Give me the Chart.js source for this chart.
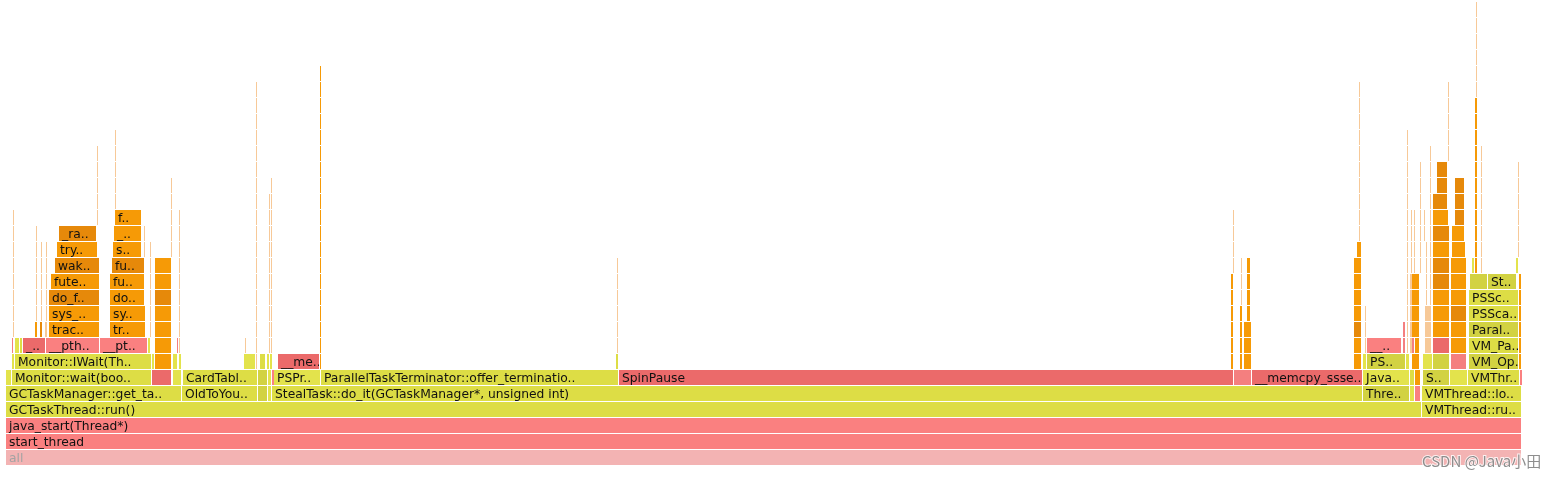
<!DOCTYPE html>
<html><head><meta charset="utf-8">
<script src="https://cdn.jsdelivr.net/npm/chart.js@4/dist/chart.umd.min.js"></script>
<style>html,body{margin:0;padding:0;background:#fff;}#wrap{position:relative;width:1558px;height:479px;}</style>
</head><body><div id="wrap"><canvas id="c" width="1558" height="479"></canvas></div>
<script>
// ===== DATA: stack frames per depth level: [function name, first sample, last sample] =====
const totalSamples = 1516;
const L0 = [['all',0,1516]];
const L1 = [['start_thread',0,1516]];
const L2 = [['java_start(Thread*)',0,1516]];
const L3 = [['GCTaskThread::run()',0,1416],['VMThread::ru..',1416,1516]];
const L4 = [['GCTaskManager::get_ta..',0,176],['OldToYou..',176,252],['',252,262],['',262,266],['StealTask::do_it(GCTaskManager*, unsigned int)',266,1357],['Thre..',1357,1404],['',1404,1409],['',1409,1415],['VMThread::lo..',1416,1516]];
const L5 = [['',0,6],['Monitor::wait(boo..',6,146],['',146,166],['',167,176],['CardTabl..',177,252],['',252,262],['',262,266],['',266,268],['PSPr..',268,315],['ParallelTaskTerminator::offer_terminatio..',315,613],['SpinPause',613,1228],['',1228,1246],['__memcpy_ssse..',1246,1357],['Java..',1357,1404],['',1404,1409],['',1409,1415],['S..',1417,1444],['',1444,1462],['VMThr..',1462,1514],['',1514,1516]];
const L6 = [['',6,9],['Monitor::IWait(Th..',9,146],['',146,149],['',149,166],['',167,172],['',173,176],['',238,250],['',250,251],['',254,260],['',261,264],['',264,266],['__me..',272,314],['',314,315],['',610,612],['',1225,1228],['',1234,1237],['',1238,1246],['',1348,1356],['',1357,1361],['PS..',1361,1400],['',1400,1404],['',1406,1414],['',1417,1427],['',1427,1444],['',1445,1461],['VM_Op..',1463,1513],['',1513,1516]];
const L7 = [['',6,7],['',9,14],['',14,17],['_..',17,40],['__pth..',40,94],['__pt..',94,142],['',142,144],['',149,166],['',171,172],['',173,174],['',239,240],['',250,251],['',263,264],['',265,266],['',314,315],['',611,612],['',1225,1228],['',1234,1237],['',1238,1246],['',1348,1356],['',1359,1360],['__..',1361,1396],['',1397,1400],['',1401,1402],['',1404,1406],['',1406,1409],['',1409,1414],['',1419,1426],['',1427,1444],['',1445,1461],['VM_Pa..',1463,1513],['',1513,1516]];
const L8 = [['',7,8],['',29,32],['',34,37],['',39,41],['trac..',43,94],['tr..',104,140],['',144,145],['',149,166],['',173,174],['',250,251],['',263,264],['',265,266],['',314,315],['',611,612],['',1225,1228],['',1234,1237],['',1238,1246],['',1348,1356],['',1359,1360],['',1397,1400],['',1401,1402],['',1404,1406],['',1406,1414],['',1419,1426],['',1427,1444],['',1445,1461],['Paral..',1463,1513],['',1513,1516]];
const L9 = [['',7,8],['',30,31],['',35,36],['',40,41],['sys_..',43,94],['sy..',104,140],['',144,145],['',149,166],['',173,174],['',250,251],['',263,264],['',265,266],['',314,315],['',611,612],['',1225,1228],['',1234,1237],['',1241,1245],['',1348,1356],['',1359,1360],['',1401,1402],['',1404,1406],['',1406,1414],['',1419,1426],['',1427,1444],['',1445,1461],['PSSca..',1463,1513],['',1513,1516]];
const L10 = [['',7,8],['',30,31],['',35,36],['',40,41],['do_f..',43,94],['do..',104,139],['',144,145],['',149,166],['',173,174],['',250,251],['',263,264],['',265,266],['',314,315],['',611,612],['',1225,1228],['',1235,1236],['',1241,1245],['',1348,1356],['',1401,1402],['',1404,1406],['',1406,1414],['',1420,1421],['',1424,1425],['',1427,1444],['',1445,1461],['PSSc..',1463,1513],['',1513,1516]];
const L11 = [['',7,8],['',30,31],['',35,36],['',40,41],['fute..',45,94],['fu..',104,139],['',144,145],['',149,166],['',173,174],['',250,251],['',263,264],['',265,266],['',314,315],['',611,612],['',1225,1228],['',1235,1236],['',1241,1245],['',1348,1356],['',1401,1402],['',1404,1406],['',1406,1414],['',1420,1421],['',1424,1425],['',1427,1444],['',1445,1461],['',1464,1482],['St..',1482,1511],['',1513,1516]];
const L12 = [['',7,8],['',30,31],['',35,36],['',40,41],['wak..',49,94],['fu..',106,139],['',144,145],['',149,166],['',173,174],['',250,251],['',263,264],['',265,266],['',314,315],['',611,612],['',1227,1228],['',1235,1236],['',1241,1245],['',1348,1356],['',1401,1402],['',1405,1406],['',1408,1409],['',1414,1415],['',1420,1421],['',1424,1425],['',1427,1444],['',1445,1461],['',1466,1468],['',1469,1471],['',1475,1476],['',1510,1513]];
const L13 = [['',7,8],['',30,31],['',35,36],['',40,41],['try..',51,92],['s..',107,136],['',138,139],['',144,145],['',165,166],['',173,174],['',250,251],['',263,264],['',265,266],['',314,315],['',1227,1228],['',1351,1356],['',1401,1402],['',1405,1406],['',1408,1409],['',1414,1415],['',1420,1421],['',1424,1425],['',1427,1444],['',1446,1460],['',1469,1471],['',1475,1476],['',1512,1513]];
const L14 = [['',7,8],['',30,31],['_ra..',53,91],['_..',108,136],['',138,139],['',165,166],['',173,174],['',250,251],['',263,264],['',265,266],['',314,315],['',1227,1228],['',1353,1354],['',1401,1402],['',1405,1406],['',1408,1409],['',1414,1415],['',1418,1419],['',1424,1425],['',1427,1444],['',1446,1459],['',1469,1471],['',1475,1476],['',1512,1513]];
const L15 = [['',7,8],['',91,92],['f..',109,136],['',165,166],['',173,174],['',250,251],['',263,264],['',265,266],['',314,315],['',1227,1228],['',1353,1354],['',1401,1402],['',1405,1406],['',1408,1409],['',1414,1415],['',1418,1419],['',1424,1425],['',1427,1443],['',1449,1459],['',1469,1471],['',1475,1476],['',1512,1513]];
const L16 = [['',91,92],['',109,110],['',165,166],['',250,251],['',263,264],['',265,266],['',314,315],['',1353,1354],['',1401,1402],['',1414,1415],['',1424,1425],['',1427,1442],['',1449,1459],['',1469,1471],['',1475,1476],['',1512,1513]];
const L17 = [['',91,92],['',109,110],['',165,166],['',250,251],['',265,266],['',314,315],['',1353,1354],['',1401,1402],['',1414,1415],['',1424,1425],['',1431,1442],['',1449,1459],['',1469,1471],['',1475,1476],['',1512,1513]];
const L18 = [['',91,92],['',109,110],['',250,251],['',314,315],['',1353,1354],['',1401,1402],['',1414,1415],['',1424,1425],['',1431,1442],['',1469,1471],['',1475,1476],['',1512,1513]];
const L19 = [['',91,92],['',109,110],['',250,251],['',314,315],['',1353,1354],['',1401,1402],['',1424,1425],['',1442,1443],['',1469,1471],['',1475,1476]];
const L20 = [['',109,110],['',250,251],['',314,315],['',1353,1354],['',1401,1402],['',1442,1443],['',1469,1471]];
const L21 = [['',250,251],['',314,315],['',1353,1354],['',1442,1443],['',1469,1471]];
const L22 = [['',250,251],['',314,315],['',1353,1354],['',1442,1443],['',1469,1471]];
const L23 = [['',250,251],['',314,315],['',1353,1354],['',1442,1443],['',1470,1471]];
const L24 = [['',314,315],['',1470,1471]];
const L25 = [['',1470,1471]];
const L26 = [['',1470,1471]];
const L27 = [['',1470,1471]];
const L28 = [['',1470,1471]];
const stackLevels = [L0,L1,L2,L3,L4,L5,L6,L7,L8,L9,L10,L11,L12,L13,L14,L15,L16,L17,L18,L19,L20,L21,L22,L23,L24,L25,L26,L27,L28];
const levelLabels = stackLevels.map((_, i) => String(i));
const watermarkText = 'CSDN @Java小田';

// ===== STYLE =====
const palette = {R:'#f3b3b3', S:'#fa8080', D:'#eb6a6a', P:'#f47f7f', Y:'#dddd45', L:'#e3e34c', O:'#d2d242', A:'#f69a06', B:'#e6890a', C:'#f7c998'};
const levelShades = [
 'R','S','S','YY','YYOLYOLSY','LYDLYOLSLYDPDLYAOLYS',
 'LYLALLLCYLLDAYAAAALOLALOPOA',
 'PLYDSSLAPCCCCCACAAAACSPCCPACDAYA',
 'CABCAACACCCCACAAABCPCCACAAOA',
 'CCCCAACACCCCACAAAACCCACABYA',
 'CCCCBACBCCCCACACAACCACCAAYA',
 'CCCCAACACCCCACACAACCACCBAOOA',
 'CCCCBBCACCCCACCCAACCCCCCBALACL',
 'CCCCAACCCCCCCACACCCCCCAAACC',
 'CCBACCCCCCACCCCCCCCBAACC',
 'CCACCCCCACCCCCCCCABACC',
 'CCCCCCACCCCBBACC',
 'CCCCCACCCCBBACC',
 'CCCACCCCBACC',
 'CCCACCCCAC',
 'CCACCCA','CACCA','CACCA','CACCC','AC','C','C','C','C'];

// ===== BUILD =====
const frameNames = [], frameColors = [], frameData = [], frameLevel = [];
stackLevels.forEach((lvl, li) => {
  lvl.forEach((f, j) => {
    frameNames.push(f[0]);
    frameLevel.push(li);
    frameData.push({x: [f[1], f[2]], y: levelLabels[li]});
    frameColors.push(palette[levelShades[li][j]] || palette.C);
  });
});

const labelPlugin = {
  id: 'frameLabels',
  afterDatasetsDraw(chart) {
    const ctx = chart.ctx;
    const meta = chart.getDatasetMeta(0);
    ctx.save();
    ctx.font = '12.3px "DejaVu Sans", Verdana, sans-serif';
    ctx.textBaseline = 'alphabetic';
    meta.data.forEach((el, i) => {
      const name = frameNames[i];
      if (!name) return;
      const p = el.getProps(['x', 'y', 'base', 'height'], true);
      const left = Math.min(p.x, p.base), right = Math.max(p.x, p.base);
      ctx.save();
      ctx.beginPath();
      ctx.rect(left, p.y - p.height / 2, right - left - 1, p.height);
      ctx.clip();
      ctx.fillStyle = frameLevel[i] === 0 ? '#a3a3a3' : '#111111';
      ctx.fillText(name, left + 3, p.y + 5);
      ctx.restore();
    });
    ctx.restore();
  }
};

const watermarkPlugin = {
  id: 'watermark',
  afterDraw(chart) {
    const ctx = chart.ctx;
    ctx.save();
    ctx.font = '15px "Noto Sans CJK SC", "Noto Sans", sans-serif';
    ctx.textBaseline = 'alphabetic';
    ctx.lineWidth = 2;
    ctx.strokeStyle = 'rgba(255,255,255,0.8)';
    ctx.strokeText(watermarkText, 1422, 467);
    ctx.fillStyle = 'rgba(130,130,130,0.9)';
    ctx.fillText(watermarkText, 1422, 467);
    ctx.restore();
  }
};

new Chart(document.getElementById('c'), {
  type: 'bar',
  data: {
    labels: levelLabels,
    datasets: [{
      data: frameData,
      backgroundColor: frameColors,
      borderColor: '#ffffff',
      borderSkipped: false,
      borderWidth: (c) => {
        const r = c.raw;
        const w = r ? Math.abs(r.x[1] - r.x[0]) : 0;
        return {top: 1, right: w >= 3 ? 1 : 0, bottom: 0, left: 0};
      },
      inflateAmount: 0,
      barThickness: 16,
      borderRadius: 0
    }]
  },
  options: {
    indexAxis: 'y',
    responsive: false,
    animation: false,
    layout: {padding: {left: 6, right: 36, top: 1, bottom: 14}},
    scales: {
      x: {type: 'linear', min: 0, max: totalSamples, display: false},
      y: {type: 'category', reverse: true, display: false, offset: true}
    },
    plugins: {legend: {display: false}, tooltip: {enabled: false}, title: {display: false}}
  },
  plugins: [labelPlugin, watermarkPlugin]
});
</script>
</body></html>
